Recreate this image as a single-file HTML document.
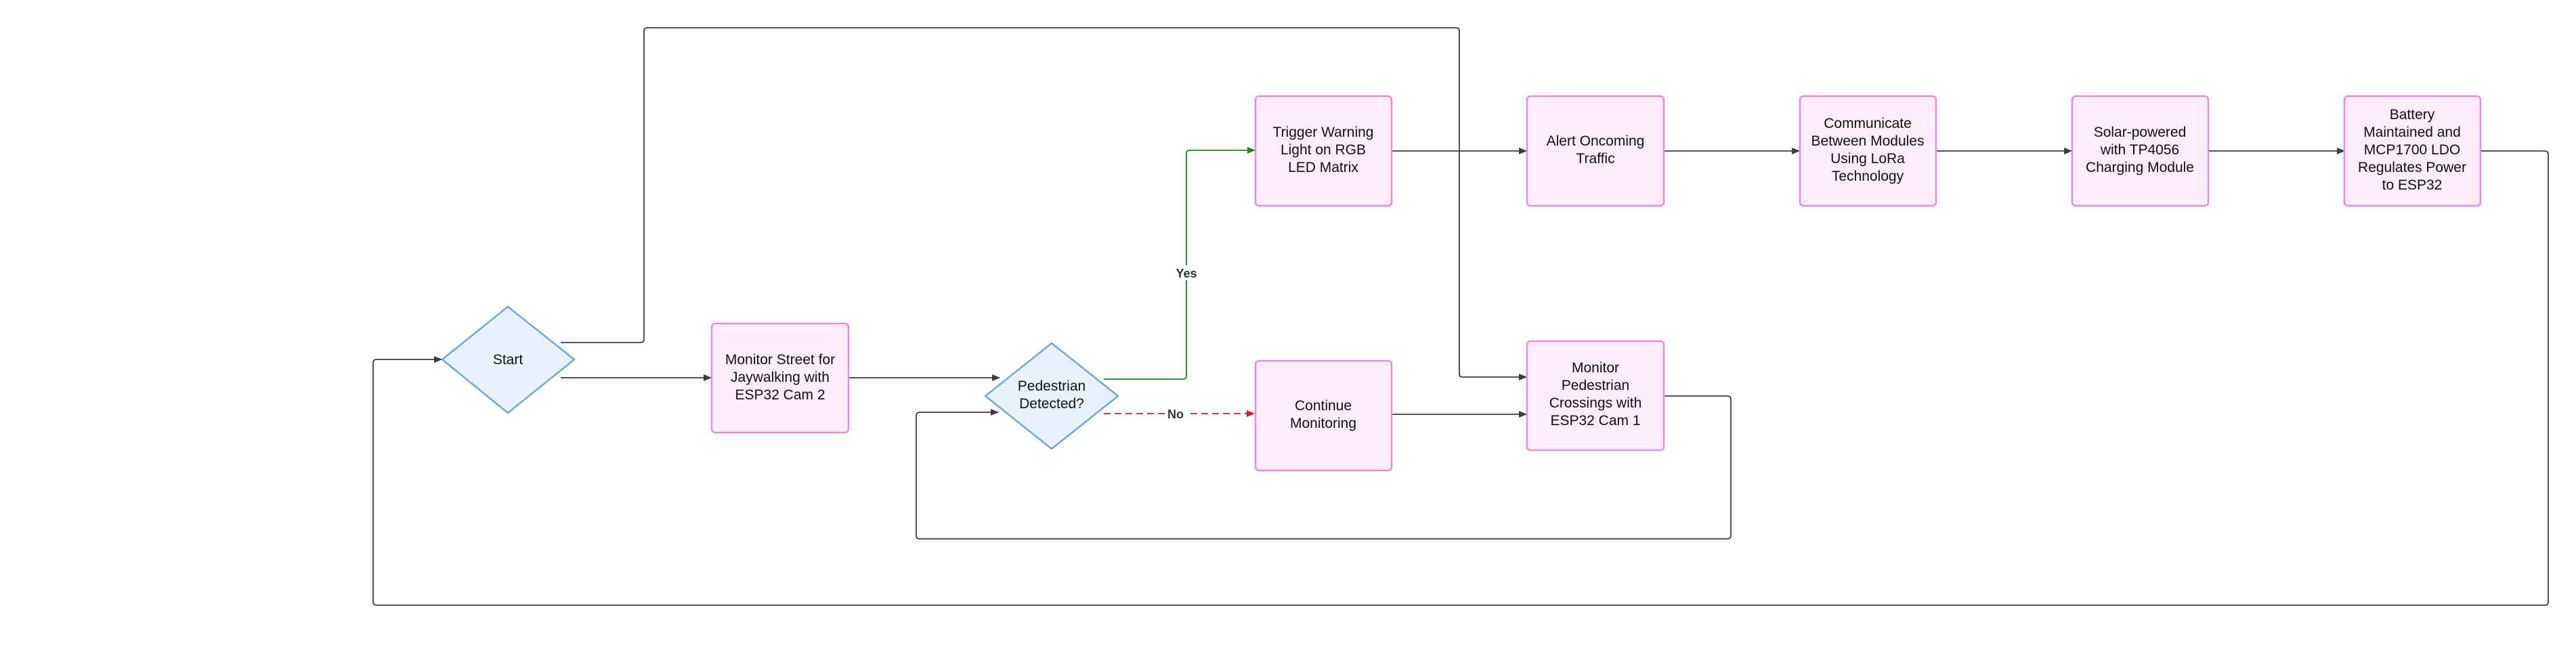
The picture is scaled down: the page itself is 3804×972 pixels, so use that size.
<!DOCTYPE html>
<html><head><meta charset="utf-8"><style>
html,body{margin:0;padding:0;background:#fff;}
svg{display:block;}
text{font-family:"Liberation Sans",sans-serif;font-size:21px;fill:#111;text-anchor:middle;}
.box{fill:#fdedf8;stroke:#ef8ad9;stroke-width:2.5;}
.dia{fill:#e8f2fc;stroke:#6fa9db;stroke-width:2.5;stroke-linejoin:round;}
.ln{fill:none;stroke:#3a3d44;stroke-width:1.8;}
</style></head><body>
<svg width="3804" height="972" viewBox="0 0 3804 972" xmlns="http://www.w3.org/2000/svg">
<defs>
<marker id="ak" markerWidth="12" markerHeight="10" refX="11" refY="5" orient="auto" markerUnits="userSpaceOnUse"><path d="M0,0 L12,5 L0,10 Z" fill="#3a3d44"/></marker>
<marker id="ag" markerWidth="12" markerHeight="10" refX="11" refY="5" orient="auto" markerUnits="userSpaceOnUse"><path d="M0,0 L12,5 L0,10 Z" fill="#1a8a1a"/></marker>
<marker id="ar" markerWidth="12" markerHeight="10" refX="11" refY="5" orient="auto" markerUnits="userSpaceOnUse"><path d="M0,0 L12,5 L0,10 Z" fill="#e01b1b"/></marker>
</defs>

<!-- connectors -->
<path class="ln" d="M828,506 H946 Q951,506 951,501 V46 Q951,41 956,41 H2150 Q2155,41 2155,46 V552 Q2155,557 2160,557 H2254" marker-end="url(#ak)"/>
<path class="ln" d="M828,558 H1050" marker-end="url(#ak)"/>
<path class="ln" d="M1253,558 H1476" marker-end="url(#ak)"/>
<path d="M1630,560 H1747 Q1752,560 1752,555 V227 Q1752,222 1757,222 H1853" fill="none" stroke="#1a8a1a" stroke-width="1.8" marker-end="url(#ag)"/>
<rect x="1738" y="392" width="28" height="22" fill="#fff"/>
<text x="1752" y="410" style="font-size:18px;font-weight:bold;fill:#333">Yes</text>
<path d="M1630,611 H1852" fill="none" stroke="#e01b1b" stroke-width="1.8" stroke-dasharray="10,6" marker-end="url(#ar)"/>
<rect x="1720" y="600" width="32" height="22" fill="#fff"/>
<text x="1736" y="618" style="font-size:18px;font-weight:bold;fill:#333">No</text>
<path class="ln" d="M2055,612 H2254" marker-end="url(#ak)"/>
<path class="ln" d="M2457,585 H2551 Q2556,585 2556,590 V791 Q2556,796 2551,796 H1358 Q1353,796 1353,791 V614 Q1353,609 1358,609 H1474" marker-end="url(#ak)"/>
<path class="ln" d="M2055,223 H2254" marker-end="url(#ak)"/>
<path class="ln" d="M2457,223 H2657" marker-end="url(#ak)"/>
<path class="ln" d="M2859,223 H3059" marker-end="url(#ak)"/>
<path class="ln" d="M3261,223 H3462" marker-end="url(#ak)"/>
<path class="ln" d="M3663,223 H3758 Q3763,223 3763,228 V889 Q3763,894 3758,894 H556 Q551,894 551,889 V536 Q551,531 556,531 H652" marker-end="url(#ak)"/>

<!-- Start diamond -->
<path class="dia" d="M750,453 L848,531 L750,610 L653,531 Z"/>
<text x="750" y="538">Start</text>

<!-- Monitor Street -->
<rect class="box" x="1051" y="478" width="202" height="161" rx="5"/>
<text x="1152" y="538">Monitor Street for</text>
<text x="1152" y="564">Jaywalking with</text>
<text x="1152" y="590">ESP32 Cam 2</text>

<!-- Pedestrian diamond -->
<path class="dia" d="M1553,507 L1651,585 L1553,663 L1455,585 Z"/>
<text x="1553" y="577">Pedestrian</text>
<text x="1553" y="603">Detected?</text>

<!-- Trigger -->
<rect class="box" x="1854" y="142" width="201" height="162" rx="5"/>
<text x="1954" y="202">Trigger Warning</text>
<text x="1954" y="228">Light on RGB</text>
<text x="1954" y="254">LED Matrix</text>

<!-- Alert -->
<rect class="box" x="2255" y="142" width="202" height="162" rx="5"/>
<text x="2356" y="215">Alert Oncoming</text>
<text x="2356" y="241">Traffic</text>

<!-- Communicate -->
<rect class="box" x="2658" y="142" width="201" height="162" rx="5"/>
<text x="2758" y="189">Communicate</text>
<text x="2758" y="215">Between Modules</text>
<text x="2758" y="241">Using LoRa</text>
<text x="2758" y="267">Technology</text>

<!-- Solar -->
<rect class="box" x="3060" y="142" width="201" height="162" rx="5"/>
<text x="3160" y="202">Solar-powered</text>
<text x="3160" y="228">with TP4056</text>
<text x="3160" y="254">Charging Module</text>

<!-- Battery -->
<rect class="box" x="3462" y="142" width="201" height="162" rx="5"/>
<text x="3562" y="176">Battery</text>
<text x="3562" y="202">Maintained and</text>
<text x="3562" y="228">MCP1700 LDO</text>
<text x="3562" y="254">Regulates Power</text>
<text x="3562" y="280">to ESP32</text>

<!-- Continue -->
<rect class="box" x="1854" y="533" width="201" height="162" rx="5"/>
<text x="1954" y="606">Continue</text>
<text x="1954" y="632">Monitoring</text>

<!-- Monitor Ped -->
<rect class="box" x="2255" y="504" width="202" height="161" rx="5"/>
<text x="2356" y="550">Monitor</text>
<text x="2356" y="576">Pedestrian</text>
<text x="2356" y="602">Crossings with</text>
<text x="2356" y="628">ESP32 Cam 1</text>
</svg>
</body></html>
